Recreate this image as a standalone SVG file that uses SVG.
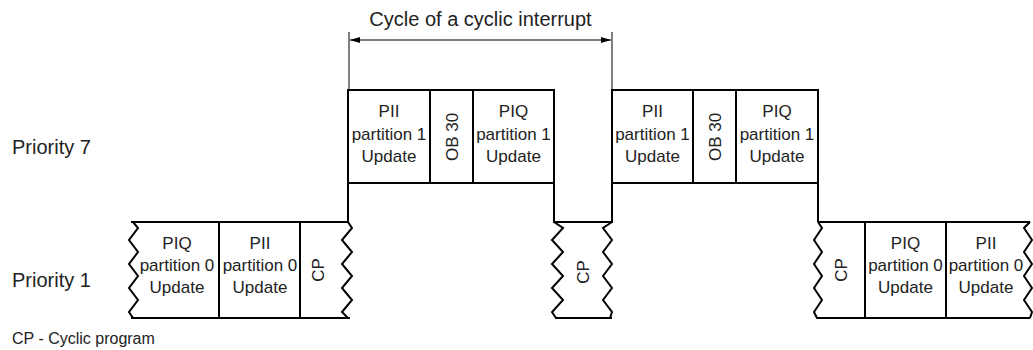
<svg xmlns="http://www.w3.org/2000/svg" width="1033" height="350" viewBox="0 0 1033 350">
<style>
.t{font-family:"Liberation Sans",Arial,sans-serif;fill:#222;}
.lbl{font-size:20px;}
.box{font-size:17px;text-anchor:middle;}
.foot{font-size:16px;}
.ln{fill:none;stroke:#000;stroke-width:2;stroke-linejoin:miter;}
.thin{fill:none;stroke:#000;stroke-width:1;}
</style>
<defs>
<marker id="ah" viewBox="0 0 10 6" refX="10" refY="3" markerWidth="10" markerHeight="6" markerUnits="userSpaceOnUse" orient="auto-start-reverse">
<path d="M0,0 L10,3 L0,6 Z" fill="#000"/>
</marker>
</defs>
<rect width="1033" height="350" fill="#fff"/>

<text class="t lbl" x="12" y="154">Priority 7</text>
<text class="t lbl" x="12" y="287">Priority 1</text>
<text class="t foot" x="12" y="344">CP - Cyclic program</text>

<g id="cycle">
<line class="thin" x1="349" y1="32" x2="349" y2="90"/>
<line class="thin" x1="612" y1="32" x2="612" y2="90"/>
<line class="thin" x1="350" y1="40" x2="611" y2="40" marker-start="url(#ah)" marker-end="url(#ah)"/>
<text class="t lbl" x="480.5" y="26" text-anchor="middle">Cycle of a cyclic interrupt</text>
</g>

<g id="connectors">
<path class="ln" d="M348,222 V183"/>
<path class="ln" d="M554,183 V222 H612 V183"/>
<path class="ln" d="M818,183 V222"/>
</g>

<g id="p1-block1">
<path class="ln" d="M131,222 H348"/>
<path class="ln" d="M131,318 H350"/>
<path class="ln" d="M133,222 L138,228 L129,240 L138,252 L129,264 L138,276 L129,288 L138,300 L129,312 L133,318"/>
<path class="ln" d="M348,222 L352,228 L342,240 L352,252 L342,264 L352,276 L342,288 L352,300 L342,312 L348,318"/>
<line class="ln" x1="219" y1="222" x2="219" y2="318"/>
<line class="ln" x1="300" y1="222" x2="300" y2="318"/>
<text class="t box" x="177" y="249">PIQ</text>
<text class="t box" x="177" y="271">partition 0</text>
<text class="t box" x="177" y="293">Update</text>
<text class="t box" x="260" y="249">PII</text>
<text class="t box" x="260" y="271">partition 0</text>
<text class="t box" x="260" y="293">Update</text>
<text class="t box" transform="translate(318,270) rotate(-90)" x="0" y="6">CP</text>
</g>

<g id="p7-block1">
<rect class="ln" x="348" y="90" width="206" height="93"/>
<line class="ln" x1="430" y1="90" x2="430" y2="183"/>
<line class="ln" x1="473" y1="90" x2="473" y2="183"/>
<text class="t box" x="389" y="117">PII</text>
<text class="t box" x="389" y="140">partition 1</text>
<text class="t box" x="389" y="162">Update</text>
<text class="t box" transform="translate(451.5,137) rotate(-90)" x="0" y="6">OB 30</text>
<text class="t box" x="513.5" y="117">PIQ</text>
<text class="t box" x="513.5" y="140">partition 1</text>
<text class="t box" x="513.5" y="162">Update</text>
</g>

<g id="p1-cp">
<path class="ln" d="M555,318 H612"/>
<path class="ln" d="M554,222 L563,228 L552,240 L563,252 L552,264 L563,276 L552,288 L563,300 L552,312 L556,318"/>
<path class="ln" d="M612,222 L603,228 L612,240 L603,252 L612,264 L603,276 L612,288 L603,300 L612,312 L610,318"/>
<text class="t box" transform="translate(583,272) rotate(-90)" x="0" y="6">CP</text>
</g>

<g id="p7-block2">
<rect class="ln" x="612" y="90" width="206" height="93"/>
<line class="ln" x1="693" y1="90" x2="693" y2="183"/>
<line class="ln" x1="736" y1="90" x2="736" y2="183"/>
<text class="t box" x="652.5" y="117">PII</text>
<text class="t box" x="652.5" y="140">partition 1</text>
<text class="t box" x="652.5" y="162">Update</text>
<text class="t box" transform="translate(714.5,137) rotate(-90)" x="0" y="6">OB 30</text>
<text class="t box" x="777" y="117">PIQ</text>
<text class="t box" x="777" y="140">partition 1</text>
<text class="t box" x="777" y="162">Update</text>
</g>

<g id="p1-block2">
<path class="ln" d="M818,222 H1030"/>
<path class="ln" d="M816,318 H1030"/>
<path class="ln" d="M818,222 L822,228 L814,240 L822,252 L814,264 L822,276 L814,288 L822,300 L814,312 L817,318"/>
<path class="ln" d="M1030,222 L1024,228 L1032,240 L1024,252 L1032,264 L1024,276 L1032,288 L1024,300 L1032,312 L1030,318"/>
<line class="ln" x1="865" y1="222" x2="865" y2="318"/>
<line class="ln" x1="946" y1="222" x2="946" y2="318"/>
<text class="t box" transform="translate(841,270) rotate(-90)" x="0" y="6">CP</text>
<text class="t box" x="905.5" y="249">PIQ</text>
<text class="t box" x="905.5" y="271">partition 0</text>
<text class="t box" x="905.5" y="293">Update</text>
<text class="t box" x="986" y="249">PII</text>
<text class="t box" x="986" y="271">partition 0</text>
<text class="t box" x="986" y="293">Update</text>
</g>
</svg>
